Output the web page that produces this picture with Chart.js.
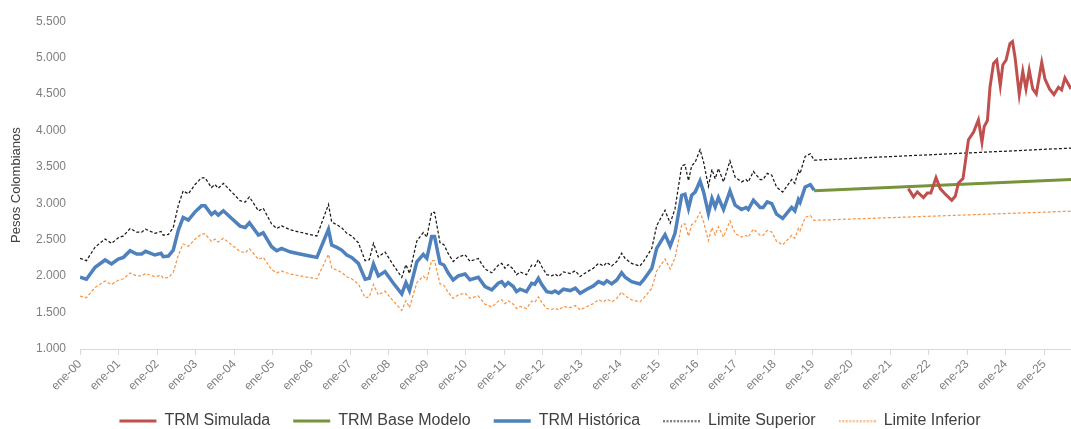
<!DOCTYPE html>
<html>
<head>
<meta charset="utf-8">
<script src="https://cdn.jsdelivr.net/npm/chart.js@4/dist/chart.umd.min.js"></script>
<style>
  body { margin: 0; background: #fff; }
  canvas { display: block; }
</style>
</head>
<body>
<canvas id="trm-chart" width="1071" height="429"></canvas>
<script>
// x positions are months counted from ene-00
var xTickLabels = ["ene-00", "ene-01", "ene-02", "ene-03", "ene-04", "ene-05", "ene-06", "ene-07", "ene-08",
  "ene-09", "ene-10", "ene-11", "ene-12", "ene-13", "ene-14", "ene-15", "ene-16", "ene-17", "ene-18", "ene-19",
  "ene-20", "ene-21", "ene-22", "ene-23", "ene-24", "ene-25"];
var yTickLabels = ["1.000", "1.500", "2.000", "2.500", "3.000", "3.500", "4.000", "4.500", "5.000", "5.500"];

var histMonths = [0, 2, 4.7, 7.8, 9.8, 11.9, 13.5, 15.6, 17.6, 19.2,
  20.4, 23.3, 25.2, 25.9, 27.5, 29, 30.6, 32.1, 33.7, 35.8,
  37.8, 38.9, 40.9, 42, 43, 44.6, 47.2, 49.8, 51.4, 52.7,
  55.5, 57, 59.6,
  61.2, 62.7, 65.3, 68.4, 71.5, 73.7, 75.7, 77.3, 78.3, 79.9,
  81.4, 83, 84.5, 86.6, 88.7, 90, 91.3, 92.8, 94.9, 97.5,
  100.1, 101.4, 102.5, 104.8, 106.8, 107.9, 109.4, 110.3, 112, 113.2,
  114.6, 116.1, 117.7, 119.8, 121.3,
  123.9, 126, 128.1, 130.1, 131.2, 132.2, 133.2, 134.8, 135.8, 136.9,
  138.9, 140.5, 141.5, 142.6, 143.6, 145.2, 146.8, 147.8, 148.9, 150.4,
  152.5, 154.1, 155.6, 157.7, 159.7, 161.3, 162.9, 163.9, 165.4, 167,
  168.5, 169.6, 171.6, 174.2, 175.3, 176.8, 177.9, 179.4,
  182, 183.6, 185.1, 187.2, 188.2, 189.3, 190.3, 191.4, 192.9, 194,
  195.5, 196.6, 197.6, 198.6, 200.2, 202.2, 203.8, 205.8, 207.2, 207.9,
  209.5, 211.6, 212.5, 213.8, 215.2, 216.7, 218.6, 221.4, 222.4, 223.5,
  224, 225.6, 227.2, 228.4];

var trmHistorica = [1985, 1958, 2122, 2222, 2167, 2235, 2258, 2349, 2304, 2304,
  2341, 2290, 2313, 2267, 2276, 2358, 2632, 2806, 2769, 2883,
  2965, 2965, 2847, 2883, 2837, 2897, 2792, 2687, 2669, 2732,
  2563, 2595, 2404,
  2349, 2381, 2335, 2304, 2276, 2258, 2472, 2642, 2427, 2395,
  2358, 2290, 2258, 2176, 1958, 1971, 2167, 2003, 2062, 1903,
  1757, 1911, 1802, 2198, 2300, 2245, 2545, 2545, 2176, 2153,
  2040, 1948, 2003, 2030, 1950,
  1985, 1857, 1811, 1903, 1925, 1866, 1911, 1857, 1788, 1821,
  1788, 1903, 1889, 1971, 1889, 1788, 1774, 1797, 1766, 1821,
  1802, 1835, 1766, 1821, 1866, 1925, 1893, 1938, 1893, 1948,
  2048, 1985, 1925, 1893, 1948, 2040, 2108, 2382,
  2570, 2413, 2587, 3111, 3125, 2929, 3111, 3156, 3307, 3156,
  2860, 3066, 2951, 3079, 2915, 3170, 2974, 2915, 2943, 2915,
  3042, 2943, 2943, 3019, 2997, 2851, 2792, 2943, 2897, 3052,
  3015, 3225, 3257, 3179];

var limiteSuperiorHist = [2243, 2213, 2398, 2511, 2449, 2526, 2552, 2654, 2604, 2604,
  2645, 2588, 2614, 2562, 2572, 2665, 2974, 3171, 3129, 3258,
  3350, 3350, 3217, 3258, 3206, 3274, 3155, 3036, 3016, 3087,
  2896, 2932, 2717,
  2654, 2691, 2639, 2604, 2572, 2552, 2793, 2985, 2743, 2706,
  2665, 2588, 2552, 2459, 2213, 2227, 2449, 2263, 2330, 2150,
  1985, 2159, 2036, 2484, 2599, 2537, 2876, 2876, 2459, 2433,
  2305, 2201, 2263, 2294, 2204,
  2243, 2098, 2046, 2150, 2175, 2109, 2159, 2098, 2020, 2058,
  2020, 2150, 2135, 2227, 2135, 2020, 2005, 2031, 1996, 2058,
  2036, 2074, 1996, 2058, 2109, 2175, 2139, 2190, 2139, 2201,
  2314, 2243, 2175, 2139, 2201, 2305, 2382, 2692,
  2904, 2727, 2923, 3515, 3531, 3310, 3515, 3566, 3737, 3566,
  3232, 3465, 3335, 3479, 3294, 3582, 3361, 3294, 3326, 3294,
  3437, 3326, 3326, 3411, 3387, 3222, 3155, 3326, 3274, 3449,
  3407, 3644, 3680, 3592];

var limiteInferiorHist = [1727, 1704, 1846, 1933, 1885, 1944, 1964, 2044, 2004, 2004,
  2037, 1992, 2012, 1972, 1980, 2051, 2290, 2441, 2409, 2508,
  2580, 2580, 2477, 2508, 2468, 2520, 2429, 2338, 2322, 2377,
  2230, 2258, 2091,
  2044, 2071, 2031, 2004, 1980, 1964, 2151, 2299, 2111, 2084,
  2051, 1992, 1964, 1893, 1704, 1715, 1885, 1743, 1794, 1656,
  1529, 1663, 1568, 1912, 2001, 1953, 2214, 2214, 1893, 1873,
  1775, 1695, 1743, 1766, 1697,
  1727, 1616, 1576, 1656, 1675, 1623, 1663, 1616, 1556, 1584,
  1556, 1656, 1643, 1715, 1643, 1556, 1543, 1563, 1536, 1584,
  1568, 1596, 1536, 1584, 1623, 1675, 1647, 1686, 1647, 1695,
  1782, 1727, 1675, 1647, 1695, 1775, 1834, 2072,
  2236, 2099, 2251, 2707, 2719, 2548, 2707, 2746, 2877, 2746,
  2488, 2667, 2567, 2679, 2536, 2758, 2587, 2536, 2560, 2536,
  2647, 2560, 2560, 2627, 2607, 2480, 2429, 2560, 2520, 2655,
  2623, 2806, 2834, 2766];

// projection (from ene-19 on)
var projMonths = [228.4, 308.3];
var trmBaseModelo = [3172, 3326];
var limiteSuperiorProj = [3592, 3758];
var limiteInferiorProj = [2766, 2892];

var simMonths = [257.7, 259.3, 260.5, 262.4, 263.6, 264.7, 266.3, 267.6, 269.2, 271.2,
  272.3, 273.3, 274.7, 276.4, 278, 279.5, 280.6, 281.3, 282.3, 283.1,
  284.2, 285.2, 286.3, 287.1, 288.1, 289.3, 290.1, 290.9, 292.2, 293.3,
  294.3, 295.3, 296.4, 297.5, 299.2, 300.2, 301.6, 303, 304.4, 305.4,
  306.4, 308.3];
var trmSimulada = [3202, 3088, 3156, 3079, 3142, 3142, 3353, 3202, 3125, 3042,
  3097, 3279, 3339, 3873, 3977, 4146, 3840, 4055, 4137, 4593,
  4921, 4967, 4616, 4903, 4967, 5194, 5222, 5003, 4493, 4811,
  4570, 4830, 4570, 4502, 4935, 4707, 4570, 4493, 4593, 4557,
  4721, 4570];

function toPoints(xs, ys) {
  return xs.map(function (x, i) { return { x: x, y: ys[i] }; });
}

// small dashed sample for the legend of the limit lines
function dashedSample(color) {
  var c = document.createElement("canvas");
  c.width = 37;
  c.height = 3;
  var g = c.getContext("2d");
  g.strokeStyle = color;
  g.lineWidth = 1.5;
  g.setLineDash([2, 1.5]);
  g.beginPath();
  g.moveTo(0, 1.5);
  g.lineTo(37, 1.5);
  g.stroke();
  return c;
}

Chart.defaults.font.family = "'Liberation Sans', Arial, sans-serif";
Chart.defaults.color = "#7f7f7f";

var ctx = document.getElementById("trm-chart").getContext("2d");
new Chart(ctx, {
  type: "line",
  data: {
    datasets: [
      {
        label: "TRM Simulada",
        data: toPoints(simMonths, trmSimulada),
        borderColor: "#C0504D",
        backgroundColor: "#C0504D",
        borderWidth: 3,
        pointStyle: "line",
      },
      {
        label: "TRM Base Modelo",
        data: toPoints(projMonths, trmBaseModelo),
        borderColor: "#77933C",
        backgroundColor: "#77933C",
        borderWidth: 3,
        pointStyle: "line",
      },
      {
        label: "TRM Histórica",
        data: toPoints(histMonths, trmHistorica),
        borderColor: "#4F81BD",
        backgroundColor: "#4F81BD",
        borderWidth: 3.5,
        pointStyle: "line",
      },
      {
        label: "Limite Superior",
        data: toPoints(histMonths, limiteSuperiorHist).concat(toPoints(projMonths, limiteSuperiorProj)),
        borderColor: "#1a1a1a",
        backgroundColor: "#1a1a1a",
        borderWidth: 1.25,
        borderDash: [3, 2],
        pointStyle: dashedSample("#333333"),
      },
      {
        label: "Limite Inferior",
        data: toPoints(histMonths, limiteInferiorHist).concat(toPoints(projMonths, limiteInferiorProj)),
        borderColor: "#F79646",
        backgroundColor: "#F79646",
        borderWidth: 1.25,
        borderDash: [3, 2],
        pointStyle: dashedSample("#F79646"),
      },
    ],
  },
  options: {
    responsive: false,
    animation: false,
    devicePixelRatio: 1,
    elements: { point: { radius: 0 }, line: { tension: 0 } },
    layout: { padding: { top: 20, right: 0, bottom: -10, left: 29 } },
    scales: {
      x: {
        type: "linear",
        min: 0,
        max: 308.3,
        afterFit: function (s) { s.height = 41; },
        ticks: {
          stepSize: 12,
          includeBounds: false,
          autoSkip: false,
          maxRotation: 45,
          minRotation: 45,
          padding: 2,
          font: { size: 12 },
          color: "#7f7f7f",
          callback: function (v) { return xTickLabels[Math.round(v / 12)]; },
        },
        grid: { display: true, drawOnChartArea: false, drawTicks: true, tickLength: 6, color: "#d9d9d9" },
        border: { color: "#d9d9d9", width: 1 },
      },
      y: {
        min: 1000,
        max: 5500,
        afterFit: function (s) { s.width = 51; },
        ticks: {
          stepSize: 500,
          padding: 14,
          font: { size: 12 },
          color: "#7f7f7f",
          callback: function (v) { return yTickLabels[Math.round((v - 1000) / 500)]; },
        },
        grid: { display: false, drawTicks: false },
        border: { display: false },
        title: {
          display: true,
          text: "Pesos Colombianos",
          color: "#404040",
          font: { size: 13 },
          padding: { top: -20, bottom: 0 },
        },
      },
    },
    plugins: {
      legend: {
        position: "bottom",
        labels: {
          usePointStyle: true,
          pointStyleWidth: 37,
          padding: 23,
          color: "#404040",
          font: { size: 16 },
        },
      },
      tooltip: { enabled: false },
    },
  },
});
</script>
</body>
</html>
